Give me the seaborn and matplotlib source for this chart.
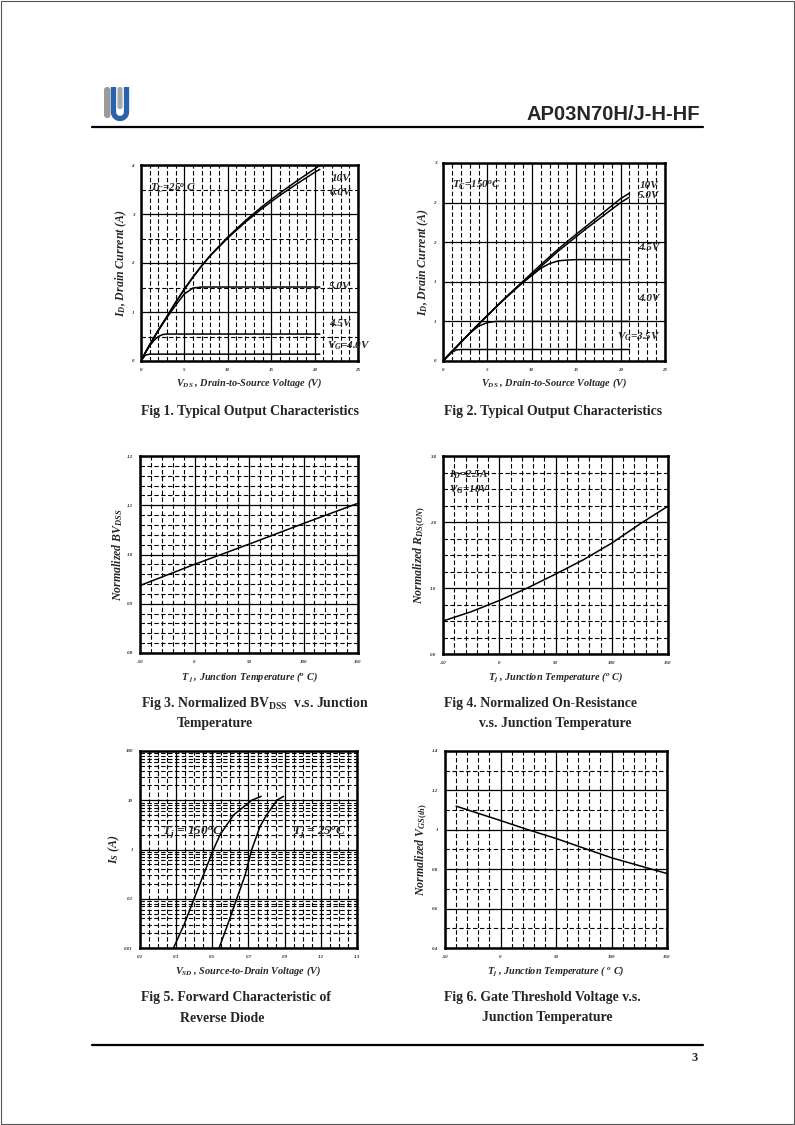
import numpy as np
import pandas as pd
import matplotlib
matplotlib.use("Agg")
import matplotlib.pyplot as plt
from matplotlib.patches import Rectangle, FancyBboxPatch
import seaborn as sns

sns.set_style("white")
plt.rcParams['font.family'] = ['Liberation Serif', 'DejaVu Serif']
plt.rcParams['mathtext.fontset'] = 'custom'
plt.rcParams['mathtext.rm'] = 'Liberation Serif:bold'
plt.rcParams['mathtext.it'] = 'Liberation Serif:bold:italic'
plt.rcParams['mathtext.bf'] = 'Liberation Serif:bold'

# ---- Fig 1: output characteristics, Tc = 25 C ----
vds1 = [0, 0.5, 1, 1.5, 2, 2.5, 3, 4, 5, 6, 7, 8, 10, 12, 14, 16, 18, 20, 20.6]
id1_10v = [0, 0.17, 0.33, 0.48, 0.63, 0.77, 0.91, 1.2, 1.47, 1.72, 1.95, 2.16, 2.53, 2.86, 3.16, 3.43, 3.68, 3.92, 3.99]
id1_6v = [0, 0.17, 0.33, 0.48, 0.63, 0.77, 0.91, 1.2, 1.46, 1.71, 1.94, 2.15, 2.51, 2.83, 3.12, 3.38, 3.62, 3.85, 3.91]
id1_5v = [0, 0.17, 0.33, 0.48, 0.62, 0.76, 0.89, 1.14, 1.37, 1.49, 1.51, 1.51, 1.51, 1.51, 1.51, 1.51, 1.51, 1.51, 1.51]
id1_45v = [0, 0.17, 0.31, 0.42, 0.50, 0.54, 0.55, 0.55, 0.55, 0.55, 0.55, 0.55, 0.55, 0.55, 0.55, 0.55, 0.55, 0.55, 0.55]
id1_4v = [0, 0.12, 0.14, 0.14, 0.14, 0.14, 0.14, 0.14, 0.14, 0.14, 0.14, 0.14, 0.14, 0.14, 0.14, 0.14, 0.14, 0.14, 0.14]

# ---- Fig 2: output characteristics, Tc = 150 C ----
vds2 = [0, 0.5, 1, 1.5, 2, 3, 4, 5, 6, 7, 8, 9, 10, 11, 12, 13, 14, 15, 16, 17, 18, 19, 20, 21]
id2_10v = [0, 0.06, 0.12, 0.175, 0.235, 0.35, 0.465, 0.575, 0.685, 0.795, 0.90, 1.005, 1.11, 1.215, 1.315, 1.415, 1.51, 1.60, 1.69, 1.78, 1.87, 1.96, 2.05, 2.12]
id2_5v = [0, 0.06, 0.12, 0.175, 0.235, 0.35, 0.465, 0.575, 0.685, 0.795, 0.90, 1.0, 1.09, 1.19, 1.29, 1.39, 1.48, 1.57, 1.66, 1.745, 1.83, 1.915, 2.0, 2.07]
id2_45v = [0, 0.06, 0.12, 0.175, 0.235, 0.35, 0.465, 0.575, 0.685, 0.79, 0.89, 0.99, 1.08, 1.17, 1.23, 1.265, 1.275, 1.28, 1.28, 1.28, 1.28, 1.28, 1.28, 1.28]
id2_4v = [0, 0.06, 0.12, 0.175, 0.235, 0.35, 0.44, 0.485, 0.50, 0.50, 0.50, 0.50, 0.50, 0.50, 0.50, 0.50, 0.50, 0.50, 0.50, 0.50, 0.50, 0.50, 0.50, 0.50]
id2_35v = [0, 0.06, 0.11, 0.14, 0.145, 0.145, 0.145, 0.145, 0.145, 0.145, 0.145, 0.145, 0.145, 0.145, 0.145, 0.145, 0.145, 0.145, 0.145, 0.145, 0.145, 0.145, 0.145, 0.145]

# ---- Fig 3: normalized BVdss ----
tj3 = [-50, 0, 50, 100, 150]
bvdss = [0.937, 0.980, 1.021, 1.063, 1.104]

# ---- Fig 4: normalized Rds(on) ----
tj4 = [-50, -25, 0, 25, 50, 75, 100, 125, 150]
rdson = [0.50, 0.64, 0.81, 1.00, 1.21, 1.43, 1.68, 1.97, 2.24]

# ---- Fig 5: body diode forward characteristic ----
vsd_150 = [0.285, 0.344, 0.399, 0.45, 0.506, 0.543, 0.617, 0.718, 0.77]
is_150 = [0.01, 0.03, 0.1, 0.3, 1, 2, 5, 10, 12]
vsd_25 = [0.5375, 0.585, 0.635, 0.681, 0.718, 0.765, 0.80, 0.857, 0.894]
is_25 = [0.01, 0.03, 0.1, 0.3, 1, 3, 5, 10, 12]

# ---- Fig 6: normalized Vgs(th) ----
tj6 = [-40, 0, 25, 50, 100, 150]
vgsth = [1.12, 1.047, 1.0, 0.956, 0.858, 0.778]

W, H = 795, 1125
fig = plt.figure(figsize=(W / 100, H / 100), dpi=100)


def px_axes(x0, y0, x1, y1):
    """add axes from page pixel box (top-left origin)"""
    return fig.add_axes([x0 / W, 1 - y1 / H, (x1 - x0) / W, (y1 - y0) / H])


DASH = (0, (4, 2.2))
TXT = dict(fontweight='bold', fontstyle='italic')


def setup(ax, xlim, ylim, xmaj, xmin, ymaj, ymin, xlab, ylab):
    ax.set_xlim(*xlim)
    ax.set_ylim(*ylim)
    ax.set_xticks(xmaj)
    ax.set_xticklabels(xlab)
    ax.set_yticks(ymaj)
    ax.set_yticklabels(ylab)
    if xmin is not None:
        ax.set_xticks(xmin, minor=True)
    if ymin is not None:
        ax.set_yticks(ymin, minor=True)
    ax.grid(which='major', color='black', lw=0.9, ls='-')
    ax.grid(which='minor', color='black', lw=0.8, ls=DASH)
    ax.tick_params(which='both', length=0, labelsize=3.6, pad=5)
    for lab in ax.get_xticklabels() + ax.get_yticklabels():
        lab.set_fontweight('bold')
        lab.set_fontstyle('italic')
    for s in ax.spines.values():
        s.set_linewidth(1.8)
        s.set_color('black')
    ax.set_axisbelow(True)


def curve(ax, x, y):
    sns.lineplot(x=x, y=y, ax=ax, color='black', lw=1.1, estimator=None, sort=False)


ylab_kw = dict(fontsize=8.6, **TXT)
xlab_kw = dict(fontsize=7.4, **TXT)

# Fig 1
ax1 = px_axes(141, 165, 358, 361)
setup(ax1, (0, 25), (0, 4), [0, 5, 10, 15, 20, 25], np.arange(0, 26, 1),
      [0, 1, 2, 3, 4], np.arange(0, 4.01, 0.5),
      ['0', '5', '10', '15', '20', '25'], ['0', '1', '2', '3', '4'])
for y in [id1_10v, id1_6v, id1_5v, id1_45v, id1_4v]:
    curve(ax1, vds1, y)
ax1.text(1.0, 3.52, r'$T_C$=25$^o$ C', fontsize=8, va='center', **TXT)
ax1.text(22.0, 3.72, '10V', fontsize=8, va='center', **TXT)
ax1.text(21.7, 3.44, '6.0V', fontsize=8, va='center', **TXT)
ax1.text(21.7, 1.53, '5.0V', fontsize=8, va='center', **TXT)
ax1.text(21.7, 0.76, '4.5V', fontsize=8, va='center', **TXT)
ax1.text(21.4, 0.32, r'$V_G$=4.0V', fontsize=8, va='center', **TXT)
ax1.set_ylabel(r'$I_D$, Drain Current (A)', labelpad=1.5, **ylab_kw)
ax1.set_xlabel(r'$V_{DS}$ , Drain-to-Source Voltage (V)', labelpad=3, **xlab_kw)

# Fig 2
ax2 = px_axes(443, 163, 665, 361)
setup(ax2, (0, 25), (0, 2.5), [0, 5, 10, 15, 20, 25], np.arange(0, 26, 1),
      [0, 0.5, 1, 1.5, 2, 2.5], None,
      ['0', '5', '10', '15', '20', '25'], ['0', '1', '1', '2', '2', '3'])
for y in [id2_10v, id2_5v, id2_45v, id2_4v, id2_35v]:
    curve(ax2, vds2, y)
ax2.text(1.0, 2.22, r'$T_C$=150$^o$C', fontsize=8, va='center', **TXT)
ax2.text(22.1, 2.22, '10V', fontsize=8, va='center', **TXT)
ax2.text(22.0, 2.09, '5.0V', fontsize=8, va='center', **TXT)
ax2.text(22.0, 1.43, '4.5V', fontsize=8, va='center', **TXT)
ax2.text(22.0, 0.79, '4.0V', fontsize=8, va='center', **TXT)
ax2.text(19.6, 0.31, r'$V_G$=3.5V', fontsize=8, va='center', **TXT)
ax2.set_ylabel(r'$I_D$, Drain Current (A)', labelpad=1.5, **ylab_kw)
ax2.set_xlabel(r'$V_{DS}$ , Drain-to-Source Voltage (V)', labelpad=3, **xlab_kw)

# Fig 3
ax3 = px_axes(140, 456, 358, 653)
setup(ax3, (-50, 150), (0.8, 1.2), [-50, 0, 50, 100, 150], np.arange(-50, 151, 10),
      [0.8, 0.9, 1.0, 1.1, 1.2], np.arange(0.8, 1.2001, 0.02),
      ['-50', '0', '50', '100', '150'], ['0.8', '0.9', '1.0', '1.1', '1.2'])
curve(ax3, tj3, bvdss)
ax3.set_ylabel(r'Normalized $BV_{DSS}$', labelpad=1.5, **ylab_kw)
ax3.set_xlabel(r'$T_{\ j}$ , Junction Temperature ($^o$ C)', labelpad=4, **xlab_kw)

# Fig 4
ax4 = px_axes(443, 456, 668, 654)
setup(ax4, (-50, 150), (0, 3.0), [-50, 0, 50, 100, 150], np.arange(-50, 151, 10),
      [0, 1, 2, 3], np.arange(0, 3.01, 0.25),
      ['-50', '0', '50', '100', '150'], ['0.0', '1.0', '2.0', '3.0'])
curve(ax4, tj4, rdson)
ax4.text(-45, 2.72, r'$I_D$=2.5A', fontsize=8, va='center', **TXT)
ax4.text(-45, 2.49, r'$V_G$=10V', fontsize=8, va='center', **TXT)
ax4.set_ylabel(r'Normalized $R_{DS(ON)}$', labelpad=1.5, **ylab_kw)
ax4.set_xlabel(r'$T_j$ , Junction Temperature ($^o$ C)', labelpad=4, **xlab_kw)

# Fig 5
ax5 = px_axes(140, 751, 357, 948)
ax5.set_yscale('log')
ymin5 = [m * 10.0 ** e for e in range(-2, 2) for m in range(2, 10)]
setup(ax5, (0.1, 1.3), (0.01, 100), [0.1, 0.3, 0.5, 0.7, 0.9, 1.1, 1.3],
      np.arange(0.1, 1.301, 0.05), [0.01, 0.1, 1, 10, 100], ymin5,
      ['0.1', '0.3', '0.5', '0.7', '0.9', '1.1', '1.3'], ['0.01', '0.1', '1', '10', '100'])
curve(ax5, vsd_150, is_150)
curve(ax5, vsd_25, is_25)
ax5.text(0.22, 2.2, r'$T_j$ = 150$^o$C', fontsize=9.5, va='center', **TXT)
ax5.text(0.94, 2.2, r'$T_j$ = 25$^o$C', fontsize=9.5, va='center', **TXT)
ax5.set_ylabel(r'$I_S$ (A)', labelpad=1.5, **ylab_kw)
ax5.set_xlabel(r'$V_{SD}$ , Source-to-Drain Voltage (V)', labelpad=4, **xlab_kw)

# Fig 6
ax6 = px_axes(445, 751, 667, 948)
setup(ax6, (-50, 150), (0.4, 1.4), [-50, 0, 50, 100, 150], np.arange(-50, 151, 10),
      [0.4, 0.6, 0.8, 1.0, 1.2, 1.4], np.arange(0.4, 1.401, 0.1),
      ['-50', '0', '50', '100', '150'], ['0.4', '0.6', '0.8', '1', '1.2', '1.4'])
curve(ax6, tj6, vgsth)
ax6.set_ylabel(r'Normalized $V_{GS(th)}$', labelpad=1.5, **ylab_kw)
ax6.set_xlabel(r'$T_j$ , Junction Temperature ( $^o$ C)', labelpad=4, **xlab_kw)

# captions
cap = dict(fontsize=9.9, fontweight='bold', va='center', ha='left')
fig.text(141 / W, 1 - 411 / H, 'Fig 1. Typical Output Characteristics', **cap)
fig.text(444 / W, 1 - 411 / H, 'Fig 2. Typical Output Characteristics', **cap)
fig.text(141 / W, 1 - 704 / H, r'Fig 3. Normalized BV$_{\mathrm{DSS}}$  v.s. Junction', **cap)
fig.text(177 / W, 1 - 724 / H, 'Temperature', **cap)
fig.text(444 / W, 1 - 704 / H, 'Fig 4. Normalized On-Resistance', **cap)
fig.text(479 / W, 1 - 724 / H, 'v.s. Junction Temperature', **cap)
fig.text(141 / W, 1 - 997 / H, 'Fig 5. Forward Characteristic of', **cap)
fig.text(180 / W, 1 - 1018 / H, 'Reverse Diode', **cap)
fig.text(444 / W, 1 - 997 / H, 'Fig 6. Gate Threshold Voltage v.s.', **cap)
fig.text(482 / W, 1 - 1018 / H, 'Junction Temperature', **cap)

# page header / footer
page = fig.add_axes([0, 0, 1, 1], zorder=-1)
page.set_xlim(0, W)
page.set_ylim(H, 0)
page.axis('off')
page.add_patch(Rectangle((1, 1), W - 2, H - 2, fill=False, ec='#555555', lw=0.8))
page.plot([92, 703], [127, 127], color='black', lw=1.6)
page.plot([92, 703], [1045, 1045], color='black', lw=1.6)
# logo: grey bar + blue U with grey core
page.add_patch(FancyBboxPatch((104, 87), 6.5, 31, boxstyle='round,pad=0,rounding_size=3',
                              fc='#9a9a9a', ec='none'))
ang = np.linspace(np.pi, 0, 20)
ux = np.r_[113.5, 113.5 + 6.5 * (1 + np.cos(ang)), 126.5]
uy = np.r_[87, 112 + 6.5 * np.sin(ang), 87]
page.plot(ux, uy, color='#2a63ad', lw=3.8, solid_capstyle='butt', solid_joinstyle='round')
page.add_patch(FancyBboxPatch((117.5, 87), 5, 22, boxstyle='round,pad=0,rounding_size=2',
                              fc='#a8a8a8', ec='none'))
fig.text(700 / W, 1 - 115 / H, 'AP03N70H/J-H-HF', family='Liberation Sans',
         fontsize=14.5, fontweight='bold', ha='right', va='center')
fig.text(698 / W, 1 - 1058 / H, '3', fontsize=9, fontweight='bold', ha='right', va='center')

fig.savefig('out.png', dpi=100, facecolor='white')
